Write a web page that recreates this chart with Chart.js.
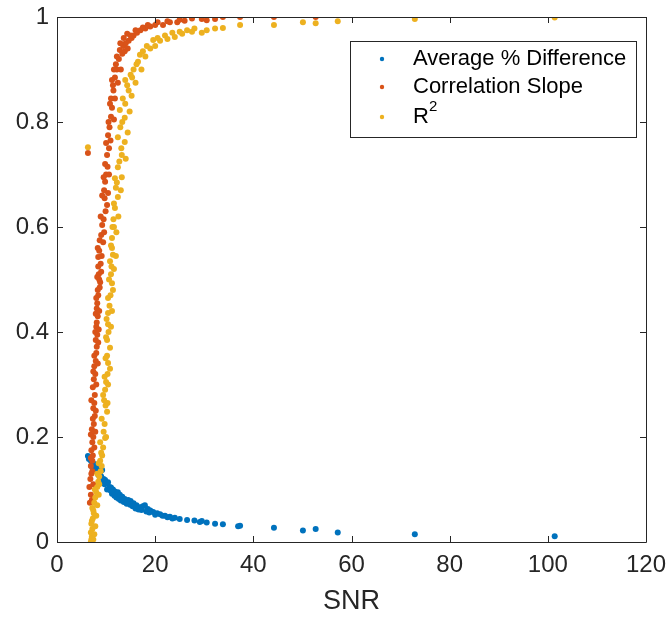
<!DOCTYPE html>
<html>
<head>
<meta charset="utf-8">
<script src="https://cdn.jsdelivr.net/npm/chart.js@4.4.1/dist/chart.umd.min.js"></script>
<style>
  html, body { margin: 0; padding: 0; background: #ffffff; }
  #wrap { width: 666px; height: 618px; position: relative; }
</style>
</head>
<body>
<div id="wrap"><canvas id="snrChart" width="666" height="618"></canvas></div>
<script>
// values (SNR vs metric)
const seriesNames = ['Average % Difference', 'Correlation Slope', 'R\u00B2'];
const seriesColors = ['#0072BD', '#D95319', '#EDB120'];
const xTicks = [0, 20, 40, 60, 80, 100, 120];
const yTicks = [0, 0.2, 0.4, 0.6, 0.8, 1];

const avgDiffX = [6.3, 6.6, 6.9, 7.3, 7.7, 8.0, 8.3, 8.6, 9.0, 9.2, 9.5, 9.8, 10.1, 10.4, 10.7, 11.0, 11.4, 11.8,
    12.4, 12.8, 13.3, 13.8, 14.5, 15.0, 15.6, 16.2, 16.9, 17.5, 17.9, 18.5, 19.0, 19.6, 20.4, 21.0, 22.0, 23.0,
    24.0, 25.0, 26.5, 28.0, 29.1, 29.5, 30.5, 32.2, 33.8, 36.9, 37.3, 44.2, 50.1, 52.7, 57.2, 72.9, 101.4,
    6.5, 7.0, 7.5, 7.9, 8.4, 8.8, 9.3, 9.7, 10.2, 10.9, 11.2, 11.7, 12.1, 12.6, 13.0, 13.6, 14.2, 14.9, 15.4,
    16.0, 16.6, 17.2, 18.2, 18.8, 20.0, 21.5, 22.5, 23.5];
const avgDiffY = [0.164, 0.160, 0.155, 0.150, 0.148, 0.142, 0.138, 0.130, 0.125, 0.137, 0.120, 0.118, 0.112, 0.114,
    0.105, 0.104, 0.100, 0.096, 0.095, 0.090, 0.086, 0.082, 0.080, 0.078, 0.074, 0.070, 0.066, 0.068, 0.070, 0.063,
    0.060, 0.057, 0.055, 0.053, 0.050, 0.048, 0.046, 0.044, 0.042, 0.041, 0.038, 0.040, 0.037, 0.035, 0.034, 0.030,
    0.031, 0.027, 0.022, 0.025, 0.018, 0.015, 0.011,
    0.158, 0.145, 0.140, 0.135, 0.128, 0.132, 0.115, 0.110, 0.100, 0.098, 0.092, 0.088, 0.085, 0.082, 0.079, 0.076,
    0.073, 0.071, 0.068, 0.064, 0.062, 0.061, 0.058, 0.056, 0.052, 0.050, 0.047, 0.045];

const slopeX = [6.3, 6.7, 6.9, 6.6, 6.8, 7.0, 6.9, 7.2, 7.3, 7.0, 7.2, 7.4, 7.1, 7.5, 7.7, 7.4, 7.6, 7.7, 7.3, 7.5,
    7.8, 7.6, 7.9, 8.0, 8.1, 7.9, 8.2, 8.0, 8.1, 8.3, 8.1, 8.2, 8.4, 8.3, 8.8, 8.6, 8.5, 8.4, 8.9, 8.4, 8.6, 9.4,
    9.0, 9.2, 9.5, 10.2, 9.7, 9.6, 9.8, 10.0, 10.3, 10.2, 10.6, 10.4, 10.7, 11.0, 11.2, 11.0, 11.5, 11.4, 11.8,
    12.2, 12.0, 12.6, 12.8, 13.3, 13.5, 14.0, 14.6, 15.2, 15.6, 16.3, 17.0, 18.0, 19.0, 20.0, 21.6, 23.0, 24.5,
    26.0, 29.5, 30.5, 32.2, 33.8, 37.3, 44.2, 52.7,
    7.1, 7.4, 7.2, 6.9, 7.6, 6.9, 7.8, 7.3, 7.9, 7.0, 8.0, 7.4, 8.3, 7.6, 8.4, 7.8, 8.5, 7.9, 8.6, 8.0, 8.7, 8.2,
    9.0, 8.3, 9.1, 8.7, 9.6, 8.9, 9.9, 9.2, 10.4, 9.5, 10.6, 9.8, 10.0, 10.9, 10.5, 11.6, 10.8, 11.8, 11.2, 12.4,
    11.6, 13.0, 12.2, 13.8, 12.9, 14.4, 13.6, 15.0, 14.3, 16.0, 17.5, 18.5, 20.5, 22.5, 25.0, 27.5];
const slopeY = [0.741, 0.075, 0.090, 0.105, 0.120, 0.130, 0.145, 0.155, 0.165, 0.175, 0.190, 0.200, 0.215, 0.225,
    0.240, 0.255, 0.265, 0.280, 0.295, 0.310, 0.320, 0.335, 0.345, 0.360, 0.372, 0.385, 0.395, 0.410, 0.418, 0.430,
    0.445, 0.455, 0.470, 0.480, 0.495, 0.500, 0.510, 0.525, 0.530, 0.543, 0.555, 0.571, 0.585, 0.604, 0.615, 0.642,
    0.655, 0.670, 0.686, 0.700, 0.715, 0.737, 0.750, 0.775, 0.790, 0.810, 0.827, 0.845, 0.860, 0.870, 0.885, 0.900,
    0.910, 0.920, 0.937, 0.930, 0.945, 0.950, 0.955, 0.960, 0.965, 0.970, 0.975, 0.978, 0.982, 0.985, 0.985, 0.990,
    0.990, 0.993, 0.996, 0.994, 0.996, 1.000, 1.000, 1.000, 1.000,
    0.080, 0.110, 0.135, 0.160, 0.180, 0.205, 0.210, 0.235, 0.250, 0.270, 0.300, 0.325, 0.340, 0.355, 0.380, 0.400,
    0.405, 0.435, 0.440, 0.465, 0.485, 0.505, 0.515, 0.560, 0.545, 0.575, 0.590, 0.620, 0.630, 0.660, 0.665, 0.695,
    0.700, 0.720, 0.760, 0.765, 0.800, 0.805, 0.835, 0.845, 0.880, 0.875, 0.900, 0.900, 0.925, 0.935, 0.950, 0.940,
    0.960, 0.965, 0.968, 0.975, 0.980, 0.985, 0.990, 0.992, 0.995, 0.997];

const rsqX = [6.3, 6.9, 7.0, 7.1, 6.9, 7.2, 7.0, 7.3, 7.5, 7.2, 7.6, 7.8, 8.0, 8.2, 8.4, 8.6, 8.9, 9.1, 8.8, 9.2,
    9.4, 9.8, 9.5, 9.7, 10.2, 9.9, 9.4, 9.8, 10.0, 10.3, 10.4, 10.2, 10.2, 10.5, 10.4, 10.4, 10.7, 10.9, 11.2,
    11.0, 11.1, 11.4, 11.2, 11.2, 11.6, 11.5, 11.8, 12.4, 12.0, 11.8, 12.4, 13.2, 13.8, 12.4, 12.9, 13.8, 12.8,
    13.4, 14.3, 13.9, 15.0, 15.6, 16.2, 16.9, 17.5, 18.3, 19.6, 20.5, 22.0, 23.5, 25.0, 26.5, 28.0, 29.5, 30.5,
    32.2, 33.8, 37.3, 44.2, 50.1, 52.7, 57.2, 72.9, 101.4,
    7.4, 7.6, 7.8, 7.1, 8.0, 7.4, 8.2, 7.7, 8.5, 8.2, 8.6, 8.5, 9.0, 8.8, 10.0, 9.1, 10.3, 9.6, 10.4, 9.7, 10.8,
    9.9, 10.8, 10.0, 11.0, 10.1, 11.2, 10.4, 11.4, 10.6, 11.6, 10.8, 12.0, 11.0, 12.1, 11.3, 12.5, 11.6, 13.0,
    12.2, 13.2, 12.7, 14.0, 13.1, 14.4, 13.3, 14.8, 13.9, 15.2, 14.6, 16.0, 15.3, 17.2, 16.5, 18.0, 19.0, 20.0,
    21.0, 22.5, 24.0, 25.5, 27.5];
const rsqY = [0.752, 0.000, 0.005, 0.010, 0.018, 0.025, 0.035, 0.045, 0.055, 0.065, 0.075, 0.085, 0.095, 0.105,
    0.115, 0.125, 0.135, 0.145, 0.155, 0.165, 0.180, 0.198, 0.210, 0.225, 0.248, 0.260, 0.280, 0.290, 0.305, 0.320,
    0.341, 0.355, 0.385, 0.400, 0.415, 0.436, 0.450, 0.470, 0.493, 0.510, 0.525, 0.547, 0.560, 0.579, 0.600, 0.615,
    0.636, 0.657, 0.675, 0.693, 0.714, 0.737, 0.762, 0.771, 0.790, 0.808, 0.823, 0.845, 0.870, 0.880, 0.890, 0.900,
    0.910, 0.928, 0.935, 0.945, 0.956, 0.960, 0.965, 0.970, 0.972, 0.975, 0.978, 0.970, 0.975, 0.978, 0.979, 0.985,
    0.985, 0.990, 0.988, 0.992, 0.996, 0.999,
    0.005, 0.015, 0.030, 0.040, 0.050, 0.060, 0.070, 0.100, 0.090, 0.130, 0.110, 0.150, 0.170, 0.190, 0.200, 0.235,
    0.265, 0.270, 0.300, 0.315, 0.330, 0.350, 0.370, 0.390, 0.410, 0.425, 0.440, 0.465, 0.480, 0.500, 0.520, 0.535,
    0.545, 0.565, 0.590, 0.600, 0.620, 0.645, 0.670, 0.685, 0.695, 0.725, 0.730, 0.750, 0.780, 0.800, 0.820, 0.835,
    0.850, 0.860, 0.875, 0.885, 0.900, 0.915, 0.925, 0.940, 0.945, 0.955, 0.958, 0.962, 0.968, 0.972];

function toPoints(xs, ys) {
    return xs.map((x, i) => ({ x: x, y: ys[i] }));
}

const axisColor = '#262626';
const fontFamily = '"Liberation Sans", Arial, Helvetica, sans-serif';

// MATLAB style box with inward ticks on all four sides
const boxPlugin = {
    id: 'matlabBox',
    afterDatasetsDraw(chart) {
        const { ctx, chartArea: a, scales } = chart;
        ctx.save();
        ctx.strokeStyle = axisColor;
        ctx.lineWidth = 1;
        ctx.beginPath();
        ctx.rect(Math.round(a.left) + 0.5, Math.round(a.top) + 0.5,
            Math.round(a.right - a.left), Math.round(a.bottom - a.top));
        const len = 6;
        xTicks.forEach((v) => {
            const px = Math.round(scales.x.getPixelForValue(v)) + 0.5;
            ctx.moveTo(px, a.bottom); ctx.lineTo(px, a.bottom - len);
            ctx.moveTo(px, a.top); ctx.lineTo(px, a.top + len);
        });
        yTicks.forEach((v) => {
            const py = Math.round(scales.y.getPixelForValue(v)) + 0.5;
            ctx.moveTo(a.left, py); ctx.lineTo(a.left + len, py);
            ctx.moveTo(a.right, py); ctx.lineTo(a.right - len, py);
        });
        ctx.stroke();
        ctx.restore();
    },
    afterDraw(chart) {
        // legend box in the upper right, like the matlab one
        const { ctx } = chart;
        const bx = 350, by = 41, bw = 286, bh = 96;
        ctx.save();
        ctx.fillStyle = '#ffffff';
        ctx.fillRect(bx, by, bw, bh);
        ctx.strokeStyle = axisColor;
        ctx.lineWidth = 1;
        ctx.strokeRect(bx + 0.5, by + 0.5, bw, bh);
        const rows = [59, 87, 117];
        ctx.font = '22px ' + fontFamily;
        ctx.textBaseline = 'middle';
        seriesNames.forEach((name, i) => {
            ctx.fillStyle = seriesColors[i];
            ctx.beginPath();
            ctx.arc(382, rows[i], 2.2, 0, Math.PI * 2);
            ctx.fill();
            ctx.fillStyle = '#000000';
            if (i === 2) {
                ctx.fillText('R', 413, rows[i]);
                ctx.font = '15px ' + fontFamily;
                ctx.fillText('2', 429, rows[i] - 10);
                ctx.font = '22px ' + fontFamily;
            } else {
                ctx.fillText(name, 413, rows[i]);
            }
        });
        ctx.restore();
    }
};

const ctx = document.getElementById('snrChart');

new Chart(ctx, {
    type: 'scatter',
    data: {
        datasets: [
            {
                label: seriesNames[0],
                data: toPoints(avgDiffX, avgDiffY),
                backgroundColor: seriesColors[0],
                borderWidth: 0,
                pointRadius: 3,
                order: 2,
            },
            {
                label: seriesNames[1],
                data: toPoints(slopeX, slopeY),
                backgroundColor: seriesColors[1],
                borderWidth: 0,
                pointRadius: 3,
                order: 1,
            },
            {
                label: seriesNames[2],
                data: toPoints(rsqX, rsqY),
                backgroundColor: seriesColors[2],
                borderWidth: 0,
                pointRadius: 3,
                order: 0,
            },
        ],
    },
    options: {
        responsive: false,
        animation: false,
        layout: { padding: { top: 17, right: 20, left: 0, bottom: 0 } },
        plugins: {
            legend: { display: false },
            tooltip: { enabled: false },
        },
        scales: {
            x: {
                type: 'linear',
                min: 0,
                max: 120,
                afterBuildTicks: (axis) => { axis.ticks = xTicks.map((v) => ({ value: v })); },
                afterFit: (axis) => {
                    axis.height = 76;
                    axis.paddingLeft = 0;
                    axis.paddingRight = 0;
                },
                grid: { display: false, drawTicks: false },
                border: { display: false },
                ticks: {
                    padding: 9,
                    color: axisColor,
                    font: { family: fontFamily, size: 24 },
                    maxRotation: 0,
                },
                title: {
                    display: true,
                    text: 'SNR',
                    color: axisColor,
                    font: { family: fontFamily, size: 27 },
                    padding: { top: 2, bottom: 0 },
                },
            },
            y: {
                type: 'linear',
                min: 0,
                max: 1,
                afterBuildTicks: (axis) => { axis.ticks = yTicks.map((v) => ({ value: v })); },
                afterFit: (axis) => {
                    axis.width = 57;
                    axis.paddingTop = 0;
                    axis.paddingBottom = 0;
                },
                grid: { display: false, drawTicks: false },
                border: { display: false },
                ticks: {
                    padding: 8,
                    color: axisColor,
                    font: { family: fontFamily, size: 24 },
                    callback: (v) => String(v),
                },
            },
        },
    },
    plugins: [boxPlugin],
});
</script>
</body>
</html>
